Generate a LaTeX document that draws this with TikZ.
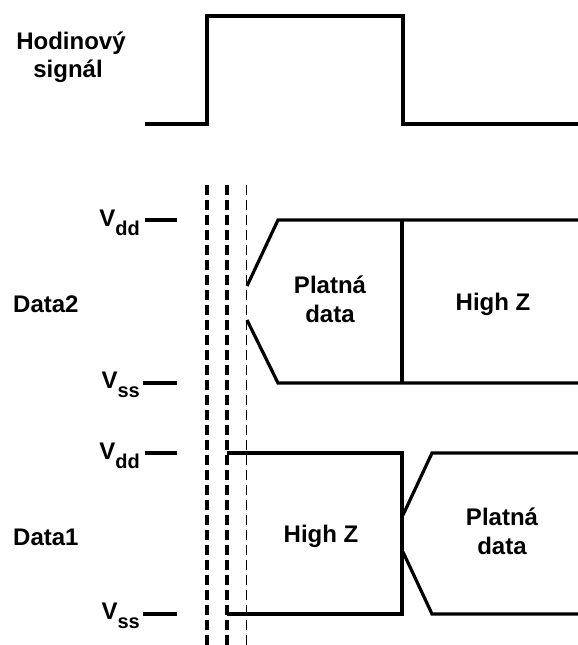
\documentclass[tikz,border=0pt]{standalone}
\usepackage{fontspec}
\setmainfont{Liberation Sans}
\begin{document}
\begin{tikzpicture}[x=1pt,y=-1pt,
  sig/.style={line width=3.2pt, line join=miter},
  tick/.style={line width=3.2pt},
  thickdash/.style={line width=3.2pt, dash pattern=on 10pt off 5pt},
  thindash/.style={line width=1.5pt, dash pattern=on 10pt off 5pt},
  lbl/.style={font=\fontsize{24}{29}\selectfont\bfseries, inner sep=0pt, align=center}]
\useasboundingbox (0,0) rectangle (578,645);
\newcommand{\vlab}[1]{V\raisebox{-9pt}{\fontsize{20}{20}\selectfont #1}}
% clock
\draw[sig] (145,124) -- (207,124) -- (207,16) -- (403,16) -- (403,124) -- (578,124);
\node[lbl, anchor=base] (hod) at (71,49) {Hodinový};
\node[lbl, anchor=base] (sig) at (68,77) {signál};
% dashed markers
\draw[thickdash] (207,185) -- (207,645);
\draw[thickdash] (227,185) -- (227,645);
\draw[thindash] (246.5,185) -- (246.5,645);
% Data2
\node[lbl, anchor=base west] (d2) at (13,312) {Data2};
\node[lbl, anchor=base east] (v2dd) at (140,226) {\vlab{dd}};
\node[lbl, anchor=base east] (v2ss) at (140,388) {\vlab{ss}};
\draw[tick] (145,220) -- (177,220);
\draw[tick] (143,383) -- (177,383);
\draw[sig] (247,286) -- (278,220) -- (578,220);
\draw[sig] (247,320) -- (278,383) -- (578,383);
\draw[sig] (402,220) -- (402,383);
\node[lbl] (pd2) at (330,299) {Platná\\data};
\node[lbl] (hz2) at (493,304) {High Z};
% Data1
\node[lbl, anchor=base west] (d1) at (13,545) {Data1};
\node[lbl, anchor=base east] (v1dd) at (140,459) {\vlab{dd}};
\node[lbl, anchor=base east] (v1ss) at (140,619) {\vlab{ss}};
\draw[tick] (145,453) -- (177,453);
\draw[tick] (143,614) -- (177,614);
\draw[sig] (227,453) -- (402,453) -- (402,614) -- (227,614);
\draw[sig] (403,515) -- (432,453) -- (578,453);
\draw[sig] (403,552) -- (432,614) -- (578,614);
\node[lbl] (hz1) at (321,536) {High Z};
\node[lbl] (pd1) at (502,531) {Platná\\data};
\end{tikzpicture}
\end{document}
